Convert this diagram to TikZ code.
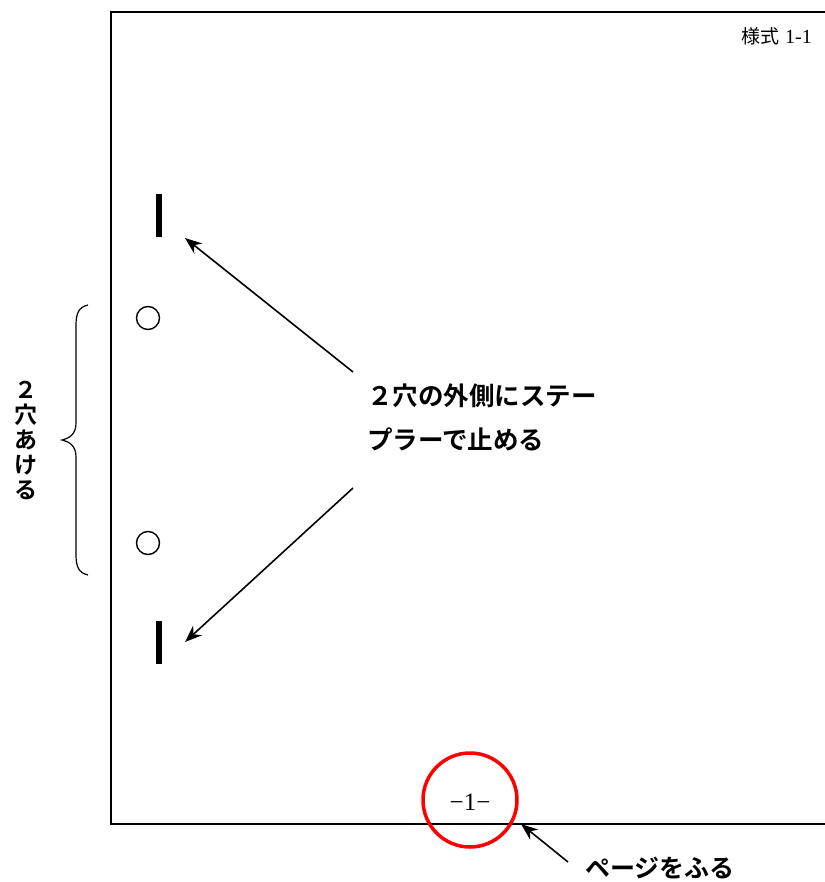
\documentclass[tikz,border=0pt]{standalone}
\usepackage{fontspec}
\newfontfamily\jpb{Noto Sans CJK JP Bold}
\newfontfamily\jpr{Noto Sans CJK JP}
\newfontfamily\serif{Liberation Serif}
\usetikzlibrary{arrows.meta}
\tikzset{
  lbl/.style={font=\jpb\fontsize{25}{25}\selectfont, inner sep=0pt},
  staple/.style={fill=black, draw=none, minimum width=6pt, minimum height=43pt, inner sep=0pt},
  hole/.style={circle, draw=black, line width=1.4pt, minimum size=23pt, inner sep=0pt},
  pointer/.style={line width=1.6pt, -{Stealth[length=17pt,width=13pt]}},
  frame/.style={line width=2pt}
}
\begin{document}
\begin{tikzpicture}[x=1pt,y=-1pt]
\useasboundingbox (0,0) rectangle (824,882);
% frame
\draw[frame] (840,12) -- (111,12) -- (111,824) -- (840,824);
% header
\node[anchor=east, inner sep=0pt] (hdr) at (812,36) {\jpr\fontsize{19}{19}\selectfont 様式\hspace{6pt}\serif\fontsize{20}{20}\selectfont 1-1};
% staples and holes
\node[staple] (st1) at (159,216) {};
\node[staple] (st2) at (159,642) {};
\node[hole] (h1) at (148,318) {};
\node[hole] (h2) at (148,543) {};
% brace
\draw[line width=1.2pt] (88,305) .. controls (79,307) and (76,313) .. (76,325)
  -- (76,423) .. controls (76,434) and (70,438) .. (62,440)
  .. controls (70,442) and (76,446) .. (76,457)
  -- (76,555) .. controls (76,567) and (79,573) .. (88,575);
% vertical label
\node[lbl, align=center, font=\jpb\fontsize{23}{25}\selectfont] (v) at (26,440) {２\\穴\\あ\\け\\る};
% main label
\node[lbl, align=left, anchor=north west, font=\jpb\fontsize{25.5}{44}\selectfont] (main) at (367,384) {２穴の外側にステー\\プラーで止める};
\coordinate (a1s) at (353,372);
\coordinate (a1e) at (185,238);
\coordinate (a2s) at (353,488);
\coordinate (a2e) at (185,642);
\draw[pointer] (a1s) -- (a1e);
\draw[pointer] (a2s) -- (a2e);
% page number
\node[circle, draw=red, line width=3.5pt, minimum size=94pt, inner sep=0pt] (pc) at (470,800) {};
\node[inner sep=0pt] (pn) at (470,802) {\serif\fontsize{25}{25}\selectfont −1−};
\node[lbl, anchor=west] (pg) at (585,868) {ページをふる};
\coordinate (a3s) at (568,862);
\coordinate (a3e) at (521,824);
\draw[pointer] (a3s) -- (a3e);
\end{tikzpicture}
\end{document}
